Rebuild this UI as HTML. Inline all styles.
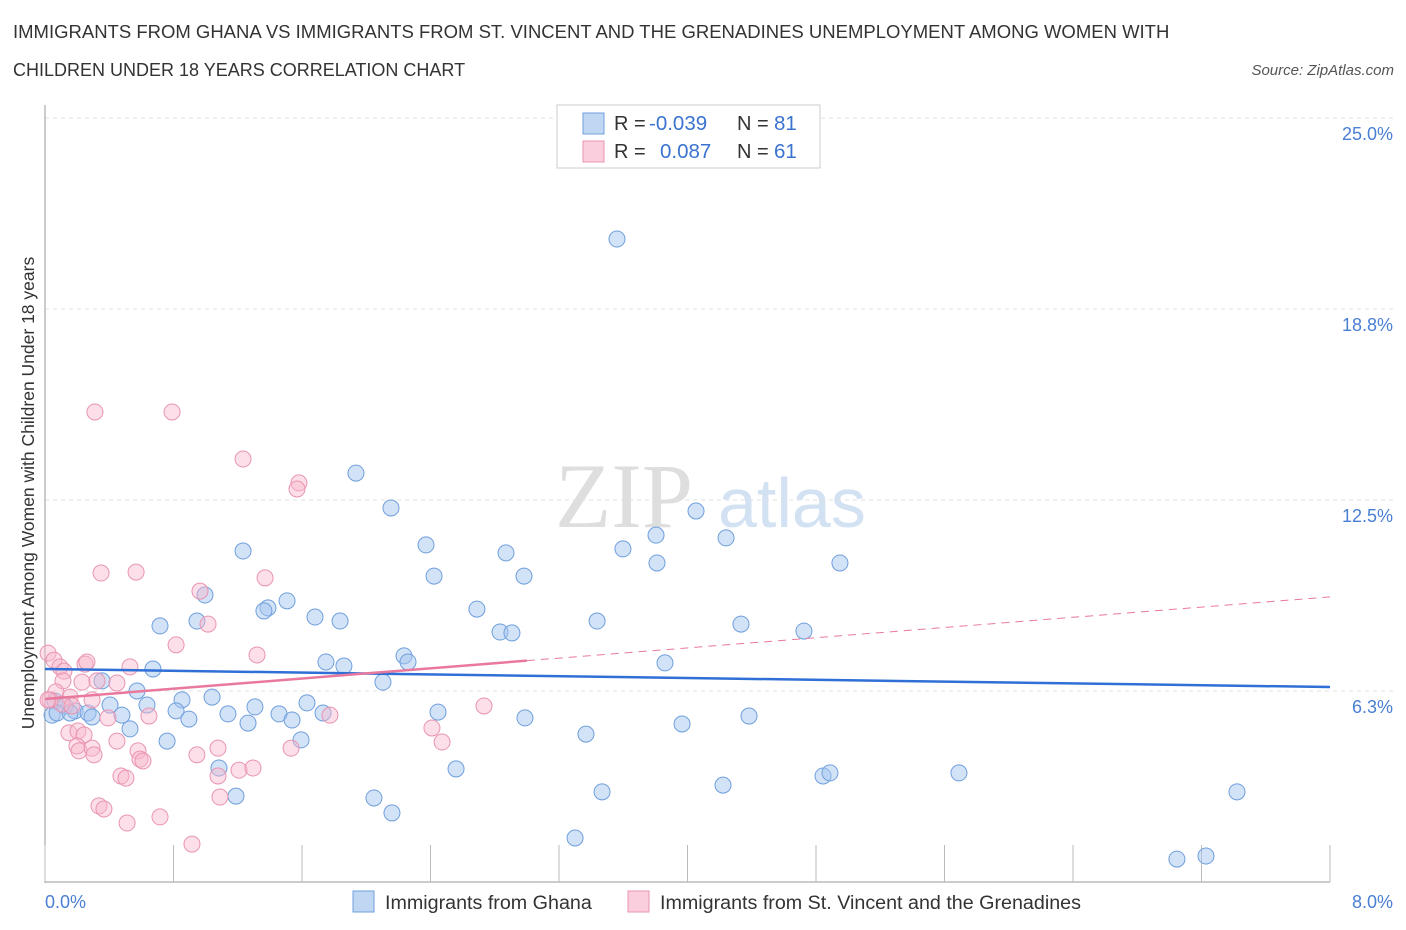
<!DOCTYPE html>
<html><head><meta charset="utf-8">
<style>
body{margin:0;background:#fff;font-family:"Liberation Sans",sans-serif;}
#wrap{position:relative;width:1406px;height:930px;overflow:hidden;}
.t{position:absolute;color:#333;font-size:18.5px;}
</style></head>
<body>
<div id="wrap">
<div class="t" style="left:13px;top:21px">IMMIGRANTS FROM GHANA VS IMMIGRANTS FROM ST. VINCENT AND THE GRENADINES UNEMPLOYMENT AMONG WOMEN WITH</div>
<div class="t" style="left:13px;top:60px;font-size:18px">CHILDREN UNDER 18 YEARS CORRELATION CHART</div>
<div class="t" style="right:12px;top:62px;font-size:15px;font-style:italic;color:#555">Source: ZipAtlas.com</div>
<svg id="chart" width="1406" height="930" style="position:absolute;left:0;top:0"></svg>
</div>
<script>
const xTickVals=[0,0.8,1.6,2.4,3.2,4.0,4.8,5.6,6.4,7.2,8.0];
const yTickVals=[6.25,12.5,18.75,25];
const yTickLabels=["6.3%","12.5%","18.8%","25.0%"];
const xEndLabels=["0.0%","8.0%"];
const ghanaPx=[[617,239],[356,473],[391,508],[696,511],[656,535],[726,538],[243,551],[426,545],[506,553],[623,549],[657,563],[840,563],[434,576],[524,576],[205,595],[268,608],[264,611],[287,601],[477,609],[315,617],[340,621],[160,626],[197,621],[597,621],[741,624],[500,632],[512,633],[804,631],[404,656],[408,662],[326,662],[344,666],[665,663],[153,669],[102,681],[383,682],[137,691],[212,697],[182,700],[255,707],[307,703],[147,705],[176,711],[110,705],[55,701],[65,706],[75,711],[88,713],[52,715],[57,713],[92,717],[122,715],[189,719],[228,714],[279,714],[292,720],[248,723],[323,713],[438,712],[525,718],[682,724],[749,716],[130,729],[167,741],[301,740],[586,734],[219,768],[456,769],[823,776],[830,773],[959,773],[723,785],[236,796],[374,798],[602,792],[392,813],[1237,792],[575,838],[1177,859],[1206,856],[70,713]];
const vincentPx=[[95,412],[172,412],[243,459],[299,483],[297,489],[101,573],[136,572],[265,578],[200,591],[208,624],[176,645],[257,655],[48,653],[54,660],[60,667],[64,671],[85,664],[87,662],[63,681],[82,682],[97,681],[130,667],[117,683],[56,692],[70,697],[50,700],[62,704],[72,706],[92,700],[108,718],[149,716],[330,715],[484,706],[69,733],[78,731],[84,735],[117,741],[77,746],[79,751],[92,748],[94,755],[138,751],[140,759],[143,761],[197,755],[291,748],[432,728],[442,742],[218,748],[121,776],[126,778],[218,776],[239,770],[253,768],[99,806],[104,809],[127,823],[160,817],[220,797],[192,844],[48,700]];
const ghanaX=ghanaPx.map(p=>+((p[0]-45)/1285*8).toFixed(3));
const ghanaY=ghanaPx.map(p=>+((882-p[1])/764*25).toFixed(2));
const vincentX=vincentPx.map(p=>+((p[0]-45)/1285*8).toFixed(3));
const vincentY=vincentPx.map(p=>+((882-p[1])/764*25).toFixed(2));
const ghanaTrend=[6.97,6.38];
const vincentTrend=[5.99,9.33];
const vincentSolidEnd=3.0;

const X=v=>45+v/8*1285, Y=v=>882-v/25*764;
const svg=document.getElementById('chart');
const NS='http://www.w3.org/2000/svg';
function mk(tag,attrs,parent){const e=document.createElementNS(NS,tag);for(const k in attrs)e.setAttribute(k,attrs[k]);(parent||svg).appendChild(e);return e;}
let w=mk('text',{x:555,y:527,'font-size':92,'font-family':'Liberation Serif, serif',fill:'#dedede'});w.textContent='ZIP';


w=mk('text',{x:718,y:527,'font-size':70,'font-family':'Liberation Sans, sans-serif',fill:'#d3e2f3'});w.textContent='atlas';


yTickVals.forEach((v,i)=>{
 const g=mk('line',{x1:45,x2:1395,y1:Y(v),y2:Y(v),stroke:'#e0e0e0','stroke-dasharray':'4,4'});
 
 
 const t=mk('text',{x:1393,y:Y(v)+22,'text-anchor':'end','font-size':18,fill:'#4a7fd4'});t.textContent=yTickLabels[i];
 
 
});
let a=mk('line',{x1:45,x2:45,y1:105,y2:883,stroke:'#999'});


a=mk('line',{x1:45,x2:1330,y1:882,y2:882,stroke:'#999'});


xTickVals.forEach(v=>{const t=mk('line',{x1:X(v),x2:X(v),y1:845,y2:882,stroke:'#bbb'});
 
 });
[[0,45,'start'],[8,1393,'end']].forEach((d,i)=>{const t=mk('text',{x:d[1],y:908,'text-anchor':d[2],'font-size':18,fill:'#4a7fd4'});t.textContent=xEndLabels[i];
 
 });
let yl=mk('text',{x:0,y:0,transform:'translate(34,493) rotate(-90)','text-anchor':'middle','font-size':17.5,fill:'#333'});yl.textContent='Unemployment Among Women with Children Under 18 years';


ghanaX.forEach((x,i)=>{const c=mk('circle',{cx:X(x),cy:Y(ghanaY[i]),r:8,fill:'rgba(165,198,240,0.5)',stroke:'#6f9fdc','stroke-width':1});
 
 });
vincentX.forEach((x,i)=>{const c=mk('circle',{cx:X(x),cy:Y(vincentY[i]),r:8,fill:'rgba(248,185,205,0.45)',stroke:'#e994b2','stroke-width':1});
 
 });
let l=mk('line',{x1:X(0),y1:Y(ghanaTrend[0]),x2:X(8),y2:Y(ghanaTrend[1]),stroke:'#2f6fd6','stroke-width':2.5});


const vy=x=>vincentTrend[0]+(vincentTrend[1]-vincentTrend[0])*x/8;
l=mk('line',{x1:X(vincentSolidEnd),y1:Y(vy(vincentSolidEnd)),x2:X(8),y2:Y(vincentTrend[1]),stroke:'#e8799d','stroke-width':1,'stroke-dasharray':'8,6'});


l=mk('line',{x1:X(0),y1:Y(vincentTrend[0]),x2:X(vincentSolidEnd),y2:Y(vy(vincentSolidEnd)),stroke:'#e8799d','stroke-width':2.5});


const lg=mk('g',{});


mk('rect',{x:557,y:105,width:263,height:63,fill:'#fff',stroke:'#ccc'},lg);
[[123,'rgba(165,198,240,0.7)','#6f9fdc','-0.039',649,'81'],[151,'rgba(248,185,205,0.7)','#e994b2','0.087',660,'61']].forEach(r=>{
 mk('rect',{x:583,y:r[0]-10,width:21,height:21,fill:r[1],stroke:r[2]},lg);
 let t=mk('text',{x:614,y:r[0]+7,'font-size':20,fill:'#333'},lg);t.textContent='R =';
 t=mk('text',{x:r[4],y:r[0]+7,'font-size':20.5,fill:'#3a73d0'},lg);t.textContent=r[3];
 t=mk('text',{x:737,y:r[0]+7,'font-size':20,fill:'#333'},lg);t.textContent='N =';
 t=mk('text',{x:774,y:r[0]+7,'font-size':20.5,fill:'#3a73d0'},lg);t.textContent=r[5];
});
[[353,'rgba(165,198,240,0.7)','#6f9fdc','Immigrants from Ghana','legend-ghana'],[628,'rgba(248,185,205,0.7)','#e994b2','Immigrants from St. Vincent and the Grenadines','legend-vincent']].forEach(r=>{
 const g=mk('g',{});
 
 
 mk('rect',{x:r[0],y:891,width:21,height:21,fill:r[1],stroke:r[2]},g);
 const t=mk('text',{x:r[0]+32,y:909,'font-size':19.7,fill:'#333'},g);t.textContent=r[3];
});
</script>
</body></html>
